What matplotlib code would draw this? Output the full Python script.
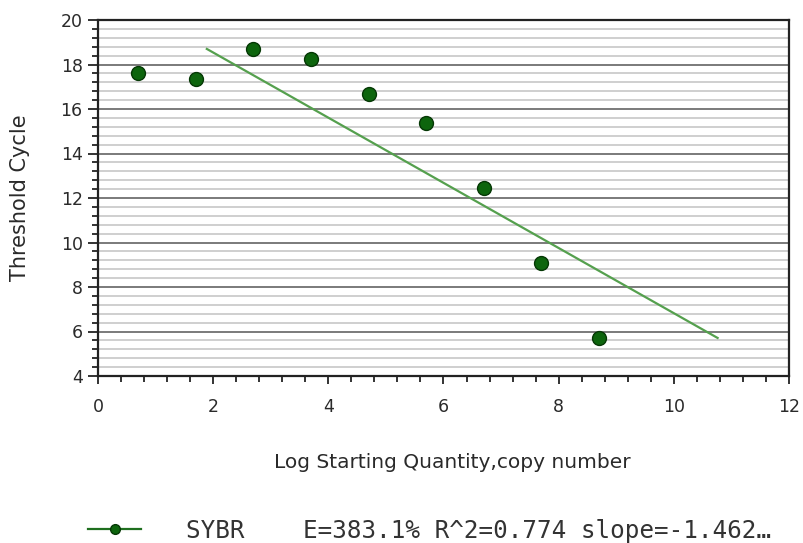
import matplotlib
matplotlib.use("Agg")
import matplotlib.pyplot as plt
from matplotlib.lines import Line2D
from matplotlib.ticker import MultipleLocator

# Data
log_qty = [0.70, 1.70, 2.70, 3.70, 4.70, 5.70, 6.70, 7.70, 8.70]
ct = [17.62, 17.35, 18.70, 18.25, 16.67, 15.37, 12.45, 9.08, 5.71]
fit_x = [1.89, 10.76]
fit_y = [18.70, 5.71]
series_name = "SYBR"
stats_text = "E=383.1% R^2=0.774 slope=-1.462\u2026"
x_label = "Log Starting Quantity,copy number"
y_label = "Threshold Cycle"

x_ticks = [0, 2, 4, 6, 8, 10, 12]
y_ticks = [4, 6, 8, 10, 12, 14, 16, 18, 20]

fig = plt.figure(figsize=(8.04, 5.43), dpi=100)
ax = fig.add_axes([98 / 804, 1 - 376 / 543, (789 - 98) / 804, (376 - 20) / 543])

ax.set_xlim(0, 12)
ax.set_ylim(4, 20)
ax.set_xticks(x_ticks)
ax.set_yticks(y_ticks)
ax.xaxis.set_minor_locator(MultipleLocator(0.4))
ax.yaxis.set_minor_locator(MultipleLocator(0.4))

ax.grid(axis="y", which="major", color="#707070", linewidth=1.3, zorder=1)
ax.grid(axis="y", which="minor", color="#cccccc", linewidth=1.3, zorder=0.5)
ax.set_axisbelow(True)

ax.plot(fit_x, fit_y, color="#55a04e", linewidth=1.6, zorder=3)
ax.plot(log_qty, ct, linestyle="none", marker="o", markersize=10,
        markerfacecolor="#0d650d", markeredgecolor="#053805", markeredgewidth=1.0, zorder=4)

for s in ax.spines.values():
    s.set_color("#222222")
    s.set_linewidth(1.6)

ax.tick_params(axis="x", which="major", direction="out", length=5.5, width=1.2,
               pad=10.5, labelsize=12.5, color="#111111", labelcolor="#2a2a2a")
ax.tick_params(axis="x", which="minor", direction="out", length=4, width=1.2, color="#111111")
ax.tick_params(axis="y", which="major", direction="out", length=7, width=1.2,
               pad=4, labelsize=12.5, color="#111111", labelcolor="#2a2a2a")
ax.tick_params(axis="y", which="minor", direction="out", length=4.5, width=1.2, color="#111111")

fig.text(452 / 804, 1 - 463 / 543, x_label, fontsize=14.5,
         color="#2a2a2a", ha="center", va="center")
fig.text(20 / 804, 1 - 198 / 543, y_label, fontsize=15, color="#2a2a2a",
         rotation=90, ha="center", va="center")

proxy = Line2D([], [], color="#1f6f1f", linewidth=1.6, marker="o", markersize=7,
               markerfacecolor="#0d650d", markeredgecolor="#053805")
leg = fig.legend([proxy], [series_name + "    " + stats_text], loc="center left",
                 bbox_to_anchor=(88 / 804, 1 - 531 / 543), frameon=False,
                 borderpad=0, borderaxespad=0, handlelength=2.2, handletextpad=1.85,
                 prop={"family": "DejaVu Sans Mono", "size": 17.5})
for t in leg.get_texts():
    t.set_color("#333333")

fig.savefig("out.png", dpi=100)
